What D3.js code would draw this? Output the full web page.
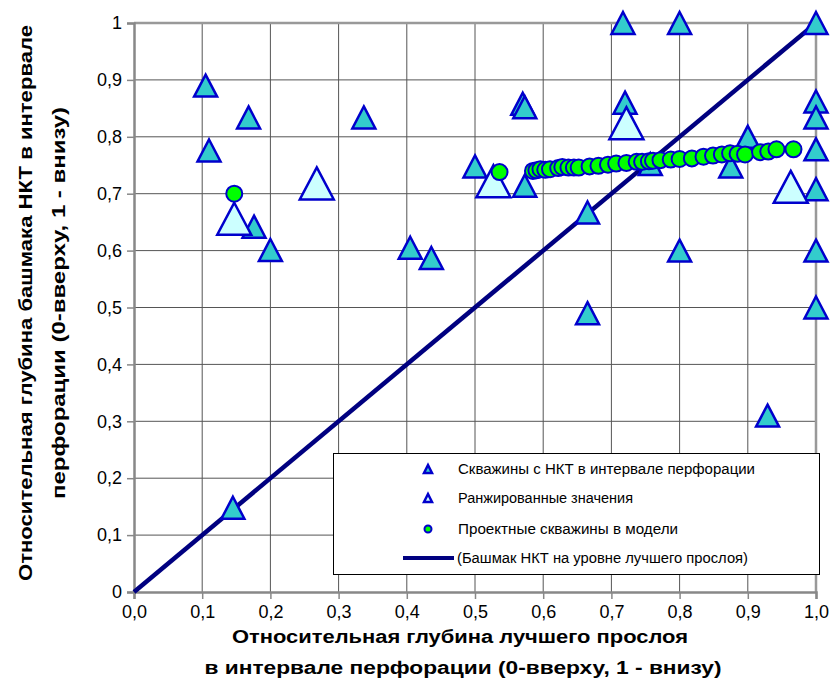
<!DOCTYPE html>
<html>
<head>
<meta charset="utf-8">
<script src="https://cdn.jsdelivr.net/npm/d3@7"></script>
<style>
  body { margin: 0; background: #fff; }
  svg text { font-family: "Liberation Sans", Arial, sans-serif; }
</style>
</head>
<body>
<svg id="chart" width="833" height="686"></svg>
<script>
// wells with tubing inside the perforation interval
const wellX = [0.105, 0.11, 0.168, 0.176, 0.2, 0.337, 0.405, 0.436, 0.145, 0.5, 0.57, 0.573, 0.573, 0.665, 0.665,
  0.717, 0.72, 0.757, 0.8, 0.8, 0.875, 0.9, 0.929, 1.0, 1.0, 1.0, 1.0, 1.0, 1.0, 1.0];
const wellY = [0.89, 0.776, 0.834, 0.642, 0.601, 0.834, 0.605, 0.587, 0.148, 0.748, 0.858, 0.852, 0.714, 0.667, 0.49,
  1.0, 0.86, 0.752, 1.0, 0.6, 0.748, 0.8, 0.31, 1.0, 0.862, 0.834, 0.778, 0.708, 0.6, 0.5];

// ranked values
const rankedX = [0.147, 0.268, 0.527, 0.722, 0.963];
const rankedY = [0.656, 0.718, 0.722, 0.824, 0.712];

// design wells in the model
const modelX = [0.147, 0.536, 0.585, 0.59, 0.596, 0.603, 0.61, 0.622, 0.628, 0.637, 0.645, 0.652, 0.668, 0.681, 0.695,
  0.707, 0.722, 0.737, 0.745, 0.755, 0.761, 0.772, 0.787, 0.8, 0.818, 0.835, 0.849, 0.862, 0.874, 0.885, 0.896,
  0.918, 0.93, 0.942, 0.967];
const modelY = [0.7, 0.738, 0.74, 0.741, 0.743, 0.742, 0.743, 0.745, 0.747, 0.746, 0.746, 0.746, 0.748, 0.749, 0.751,
  0.753, 0.754, 0.756, 0.756, 0.757, 0.758, 0.759, 0.76, 0.761, 0.762, 0.765, 0.767, 0.769, 0.771, 0.77, 0.769,
  0.773, 0.774, 0.778, 0.778];

// reference line: tubing shoe at the best layer
const lineX = [0, 1];
const lineY = [0, 1];

const xTicks = [0, 0.1, 0.2, 0.3, 0.4, 0.5, 0.6, 0.7, 0.8, 0.9, 1.0];
const yTicks = [0, 0.1, 0.2, 0.3, 0.4, 0.5, 0.6, 0.7, 0.8, 0.9, 1];

const legendNames = ["Скважины с НКТ в интервале перфорации", "Ранжированные значения",
  "Проектные скважины в модели", "(Башмак НКТ на уровне лучшего прослоя)"];

const svg = d3.select("#chart");
const pLeft = 134, pRight = 816, pTop = 23, pBottom = 592;

const x = d3.scaleLinear().domain([0, 1]).range([pLeft, pRight]);
const y = d3.scaleLinear().domain([0, 1]).range([pBottom, pTop]);

const fmtX = d => d3.format(".1f")(d).replace(".", ",");
const fmtY = d => (d === 0 || d === 1) ? String(d) : d3.format(".1f")(d).replace(".", ",");

// grid
const grid = svg.append("g");
grid.selectAll(".gx").data(xTicks.slice(1, -1)).enter().append("line")
  .attr("x1", d => x(d)).attr("x2", d => x(d)).attr("y1", pTop).attr("y2", pBottom)
  .attr("stroke", "#555").attr("stroke-width", 1);
grid.selectAll(".gy").data(yTicks.slice(1, -1)).enter().append("line")
  .attr("y1", d => y(d)).attr("y2", d => y(d)).attr("x1", pLeft).attr("x2", pRight)
  .attr("stroke", "#555").attr("stroke-width", 1);

// frame top/right
svg.append("line").attr("x1", pLeft).attr("x2", pRight).attr("y1", pTop).attr("y2", pTop)
  .attr("stroke", "#999").attr("stroke-width", 2.5);
svg.append("line").attr("x1", pRight).attr("x2", pRight).attr("y1", pTop).attr("y2", pBottom)
  .attr("stroke", "#999").attr("stroke-width", 2.5);

// axes
const xAxis = svg.append("g").attr("transform", `translate(0,${pBottom})`)
  .call(d3.axisBottom(x).tickValues(xTicks).tickFormat(fmtX).tickSize(7).tickPadding(6));
const yAxis = svg.append("g").attr("transform", `translate(${pLeft},0)`)
  .call(d3.axisLeft(y).tickValues(yTicks).tickFormat(fmtY).tickSize(7).tickPadding(5));
[xAxis, yAxis].forEach(a => {
  a.select(".domain").attr("stroke", "#888").attr("stroke-width", 2.5);
  a.selectAll(".tick line").attr("stroke", "#888").attr("stroke-width", 1.5);
  a.selectAll(".tick text").attr("fill", "#000").style("font-size", "18px")
    .style("font-family", "'Liberation Sans', Arial, sans-serif");
});
yAxis.selectAll(".tick text").attr("x", -12);

// diagonal line
svg.append("path")
  .datum(lineX.map((d, i) => [d, lineY[i]]))
  .attr("d", d3.line().x(d => x(d[0])).y(d => y(d[1])))
  .attr("stroke", "#000080").attr("stroke-width", 4.5).attr("fill", "none");

const tri = (w, h) => `M0,${-h / 2}L${w / 2},${h / 2}L${-w / 2},${h / 2}Z`;

// wells
svg.append("g").selectAll("path").data(wellX.map((d, i) => [d, wellY[i]])).enter().append("path")
  .attr("d", tri(23, 22))
  .attr("transform", d => `translate(${x(d[0])},${y(d[1])})`)
  .attr("fill", "#33CCCC").attr("stroke", "#0000CC").attr("stroke-width", 2.5);

// ranked
svg.append("g").selectAll("path").data(rankedX.map((d, i) => [d, rankedY[i]])).enter().append("path")
  .attr("d", tri(34, 32))
  .attr("transform", d => `translate(${x(d[0])},${y(d[1])})`)
  .attr("fill", "#CCFFFF").attr("stroke", "#0000CC").attr("stroke-width", 2.5);

// model wells
svg.append("g").selectAll("circle").data(modelX.map((d, i) => [d, modelY[i]])).enter().append("circle")
  .attr("cx", d => x(d[0])).attr("cy", d => y(d[1])).attr("r", 8)
  .attr("fill", "#00FF00").attr("stroke", "#0000CC").attr("stroke-width", 2);

// legend
const lg = svg.append("g");
lg.append("rect").attr("x", 333.5).attr("y", 453.5).attr("width", 486).attr("height", 121)
  .attr("fill", "#fff").attr("stroke", "#000").attr("stroke-width", 1);
const rowY = [469, 498, 529, 558];
const textLen = [297, 175, 220, 291];
lg.append("path").attr("d", tri(8, 8)).attr("transform", `translate(428,${rowY[0]})`)
  .attr("fill", "#33CCCC").attr("stroke", "#0000CC").attr("stroke-width", 2.5);
lg.append("path").attr("d", tri(8, 8)).attr("transform", `translate(428,${rowY[1]})`)
  .attr("fill", "#CCFFFF").attr("stroke", "#0000CC").attr("stroke-width", 2.5);
lg.append("circle").attr("cx", 428).attr("cy", rowY[2]).attr("r", 3.5)
  .attr("fill", "#00FF00").attr("stroke", "#0000CC").attr("stroke-width", 2);
lg.append("line").attr("x1", 403).attr("x2", 454).attr("y1", rowY[3]).attr("y2", rowY[3])
  .attr("stroke", "#000080").attr("stroke-width", 4);
lg.selectAll("text").data(legendNames).enter().append("text")
  .attr("x", (d, i) => i === 3 ? 457 : 458).attr("y", (d, i) => rowY[i] + 5)
  .attr("textLength", (d, i) => textLen[i]).attr("lengthAdjust", "spacingAndGlyphs")
  .style("font-size", "14px").text(d => d);

// axis titles
const xt = svg.append("g").style("font-weight", "bold").style("font-size", "18px").attr("text-anchor", "middle");
xt.append("text").attr("x", 460).attr("y", 643).attr("textLength", 456).attr("lengthAdjust", "spacingAndGlyphs")
  .text("Относительная глубина лучшего прослоя");
xt.append("text").attr("x", 463).attr("y", 674).attr("textLength", 517).attr("lengthAdjust", "spacingAndGlyphs")
  .text("в интервале перфорации (0-вверху, 1 - внизу)");

const yt = svg.append("g").style("font-weight", "bold").style("font-size", "18px").attr("text-anchor", "middle")
  .attr("transform", "translate(0,303) rotate(-90)");
yt.append("text").attr("x", 0).attr("y", 32).attr("textLength", 556).attr("lengthAdjust", "spacingAndGlyphs")
  .text("Относительная глубина башмака НКТ в интервале");
yt.append("text").attr("x", 0).attr("y", 65).attr("textLength", 392).attr("lengthAdjust", "spacingAndGlyphs")
  .text("перфорации (0-вверху, 1 - внизу)");
</script>
</body>
</html>
